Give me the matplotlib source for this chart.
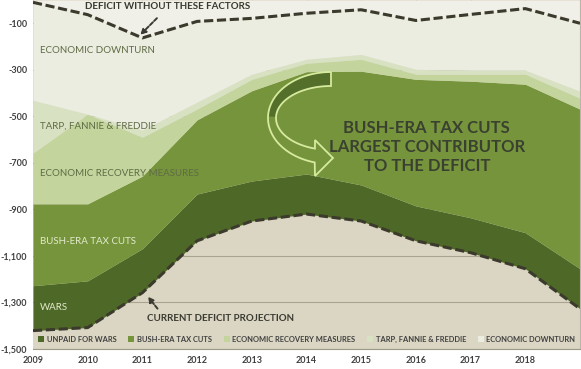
import numpy as np
import matplotlib.pyplot as plt
from matplotlib.patches import Patch, PathPatch
from matplotlib.path import Path
from matplotlib.ticker import FuncFormatter

plt.rcParams['font.family'] = ['Lato', 'DejaVu Sans']

# deficit data, billions of dollars
years = np.arange(2009, 2020)
current_deficit = [-1421, -1408, -1258, -1035, -950, -920, -950, -1035, -1086, -1155, -1327]
wars = [193, 201, 189, 201, 172, 172, 155, 150, 150, 155, 172]
tax_cuts = [352, 331, 312, 319, 388, 440, 489, 544, 587, 638, 686]
recovery = [218, 385, 167, 46, 49, 36, 51, 22, 30, 43, 47]
tarp = [227, 0, 31, 30, 22, 17, 21, 21, 17, 17, 30]
downturn = [421, 428, 396, 347, 240, 198, 192, 210, 240, 265, 292]

series_names = ["UNPAID FOR WARS", "BUSH-ERA TAX CUTS", "ECONOMIC RECOVERY MEASURES",
                "TARP, FANNIE & FREDDIE", "ECONOMIC DOWNTURN"]
colors = ["#4e6927", "#76943c", "#c3d59c", "#d8e2c3", "#eaeddf"]
xtick_labels = [str(y) for y in range(2009, 2019)]
yticks = [-100, -300, -500, -700, -900, -1100, -1300, -1500]

fig = plt.figure(figsize=(5.81, 3.69), dpi=100)
ax = fig.add_axes([33 / 581, 1 - 349 / 369, 547 / 581, 349 / 369])
ax.set_facecolor("#dbd6c3")

# stack the factors on top of the current projection
base = np.array(current_deficit, dtype=float)
parts = [wars, tax_cuts, recovery, tarp, downturn]
for vals, col in zip(parts, colors):
    top = base + np.array(vals)
    ax.fill_between(years, base, top, color=col, lw=0, zorder=1)
    base = top
without = base
ax.fill_between(years, without, 0, color="#f1f0e8", lw=0, zorder=1)

# dashed lines
ax.plot(years, current_deficit, color="#3b3a2c", lw=2.2, ls=(0, (3, 1.2)), zorder=3)
ax.plot(years, without, color="#3b3a2c", lw=2.2, ls=(0, (3, 1.2)), zorder=3)

ax.set_xlim(2009, 2019)
ax.set_ylim(-1500, 0)
ax.set_yticks(yticks)
ax.yaxis.set_major_formatter(FuncFormatter(lambda v, p: "{:,.0f}".format(v)))
ax.set_xticks(range(2009, 2019))
ax.set_xticklabels(xtick_labels)
ax.grid(axis='y', color="#a9a48f", lw=0.8)
ax.set_axisbelow(True)
ax.tick_params(axis='y', length=0, labelsize=6.5, labelcolor="#404040", pad=4)
ax.tick_params(axis='x', bottom=False, top=True, direction='in', length=3,
               color="#b0ad9c", labelsize=6.5, labelcolor="#404040", pad=5)
for lab in ax.get_xticklabels() + ax.get_yticklabels():
    lab.set_fontweight('bold')
for s in ['left', 'top']:
    ax.spines[s].set_visible(False)
ax.spines['bottom'].set_color("#9e9a88")
ax.spines['right'].set_color("#b8b6a8")

# area labels
lab_kw = dict(fontsize=7, va='center', ha='left')
ax.text(2009.13, -215, "ECONOMIC DOWNTURN", color="#5f6b45", **lab_kw)
ax.text(2009.13, -542, "TARP, FANNIE & FREDDIE", color="#5f6b45", **lab_kw)
ax.text(2009.13, -744, "ECONOMIC RECOVERY MEASURES", color="#5f6b45", **lab_kw)
ax.text(2009.13, -1040, "BUSH-ERA TAX CUTS", color="#e3ebcc", **lab_kw)
ax.text(2009.13, -1320, "WARS", color="#e3ebcc", **lab_kw)

ax.text(2016.2, -632, "BUSH-ERA TAX CUTS\nLARGEST CONTRIBUTOR\nTO THE DEFICIT",
        ha='center', va='center', fontsize=12, fontweight='bold', color="#3a4130",
        linespacing=1.25, zorder=5)

# callouts
ax.annotate("DEFICIT WITHOUT THESE FACTORS", xy=(2010.96, -150), xytext=(2011.47, -30),
            ha='center', va='center', fontsize=7, fontweight='bold', color="#3a3a30",
            arrowprops=dict(arrowstyle='-|>', color="#3a3a30", lw=1.4, ls=(0, (2, 1)),
                            shrinkA=4, shrinkB=0, mutation_scale=8), zorder=5)
ax.annotate("CURRENT DEFICIT PROJECTION", xy=(2011.1, -1275), xytext=(2011.08, -1367),
            ha='left', va='center', fontsize=7, fontweight='bold', color="#3a3a30",
            arrowprops=dict(arrowstyle='-|>', color="#3a3a30", lw=1.4, ls=(0, (2, 1)),
                            shrinkA=2, shrinkB=0, mutation_scale=8,
                            relpos=(0.1, 1.0)), zorder=5)

# curved arrow, drawn in pixel coords (top-left origin)
def fig_xy(px, py):
    return px / 581, 1 - py / 369

cx, cy = 331, 118
t_out = np.radians(np.linspace(90, 255, 60))
t_in = np.radians(np.linspace(253, 90, 60))
outer = [(cx + 63 * np.cos(t), cy - 46 * np.sin(t)) for t in t_out]
inner = [(cx + 55 * np.cos(t), cy - 32 * np.sin(t)) for t in t_in]
head = [(315, 176), (333, 158), (315, 140)]
pts = outer + head + inner
pts.append(pts[0])
verts = [fig_xy(*p) for p in pts]
arrow = PathPatch(Path(verts), facecolor='none', edgecolor="#d6eaa0", lw=1.3,
                  transform=fig.transFigure, zorder=4)
fig.add_artist(arrow)
t_a = np.radians(np.linspace(90, 178, 40))
band = [(cx + 63 * np.cos(t), cy - 46 * np.sin(t)) for t in t_a]
band += [(cx + 55 * np.cos(t), cy - 32 * np.sin(t)) for t in t_a[::-1]]
band.append(band[0])
fill = PathPatch(Path([fig_xy(*p) for p in band]), facecolor="#546f29", edgecolor='none',
                 transform=fig.transFigure, zorder=3.5)
fig.add_artist(fill)

# legend row
handles = [Patch(facecolor=c, edgecolor='none') for c in colors]
leg = ax.legend(handles, series_names, loc='lower left', bbox_to_anchor=(0.0, 0.003),
                ncol=5, frameon=False, fontsize=5.4, handlelength=0.8, handleheight=0.8,
                handletextpad=0.4, columnspacing=1.5, borderaxespad=0.3)
for t in leg.get_texts():
    t.set_color("#404040")
    t.set_fontweight('bold')

fig.savefig("out.png", dpi=100)
